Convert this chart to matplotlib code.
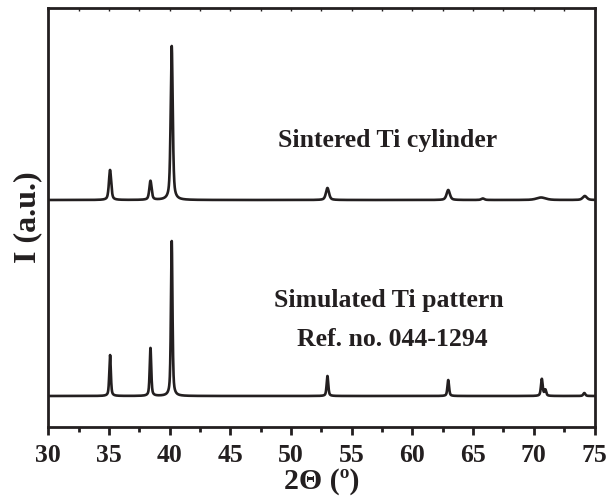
import numpy as np
import matplotlib
matplotlib.use("Agg")
import matplotlib.pyplot as plt
from matplotlib.ticker import MultipleLocator

# Peak lists (2theta position, height, FWHM)
sim_pos = [35.09, 38.42, 40.17, 53.00, 62.95, 70.66, 70.95, 74.16]
sim_h = [41, 48, 155, 20, 16, 17, 6, 3]
sim_w = [0.15, 0.15, 0.15, 0.16, 0.16, 0.17, 0.17, 0.2]

sin_pos = [35.09, 38.42, 40.17, 53.00, 62.95, 65.8, 70.6, 74.2]
sin_h = [30, 19, 154, 12, 10, 1.5, 2.5, 4]
sin_w = [0.22, 0.22, 0.20, 0.30, 0.32, 0.3, 0.9, 0.4]

offset_top = 196
xticks = [30, 35, 40, 45, 50, 55, 60, 65, 70, 75]

x = np.linspace(30, 75, 6000)

def profile(pos, h, w, eta=0.55):
    y = np.zeros_like(x)
    for p, a, fw in zip(pos, h, w):
        g = np.exp(-4 * np.log(2) * ((x - p) / fw) ** 2)
        l = 1.0 / (1.0 + 4 * ((x - p) / fw) ** 2)
        y += a * (eta * l + (1 - eta) * g)
    return y

y_sim = profile(sim_pos, sim_h, sim_w)
y_sin = profile(sin_pos, sin_h, sin_w) + offset_top

fig = plt.figure(figsize=(6.11, 5.0), dpi=100)
ax = fig.add_axes([0.079, 0.146, 0.894, 0.838])
ax.plot(x, y_sim, color="#231f20", lw=1.9)
ax.plot(x, y_sin, color="#231f20", lw=1.9)
ax.set_xlim(30, 75)
ax.set_ylim(-31, 388)

for s in ax.spines.values():
    s.set_linewidth(2.0)
    s.set_color("#231f20")

ax.set_xticks(xticks)
ax.xaxis.set_minor_locator(MultipleLocator(2.5))
ax.set_yticks([])
ax.tick_params(axis="x", which="major", direction="out", length=6, width=2, color="#231f20",
               top=True, labeltop=False, pad=6)
ax.tick_params(axis="x", which="minor", direction="out", length=3.5, width=2, color="#231f20",
               top=True)

serif = ["Liberation Serif", "DejaVu Serif"]
ax.set_xticklabels([str(t) for t in xticks], fontfamily=serif, fontweight="bold", fontsize=18.5)
for lab in ax.get_xticklabels():
    lab.set_color("#231f20")

# top ticks inward & small
for t in ax.xaxis.get_major_ticks() + ax.xaxis.get_minor_ticks():
    t.tick2line.set_marker(matplotlib.lines.TICKDOWN)
    t.tick2line.set_markersize(2)
    t.tick2line.set_markeredgewidth(1)

ax.set_xlabel("2\u0398 (\u00ba)", fontfamily=serif, fontweight="bold", fontsize=21.5,
              labelpad=1, color="#231f20")
ax.set_ylabel("I (a.u.)", fontfamily=serif, fontweight="bold", fontsize=23,
              labelpad=4, color="#231f20")

fig.text(388 / 611, 1 - 140 / 500, "Sintered Ti cylinder", ha="center", va="center",
         fontfamily=serif, fontweight="bold", fontsize=18.5, color="#231f20")
fig.text(389 / 611, 1 - 300 / 500, "Simulated Ti pattern", ha="center", va="center",
         fontfamily=serif, fontweight="bold", fontsize=18.5, color="#231f20")
fig.text(392 / 611, 1 - 340 / 500, "Ref. no. 044-1294", ha="center", va="center",
         fontfamily=serif, fontweight="bold", fontsize=18.5, color="#231f20")

fig.savefig("out.png", dpi=100)
